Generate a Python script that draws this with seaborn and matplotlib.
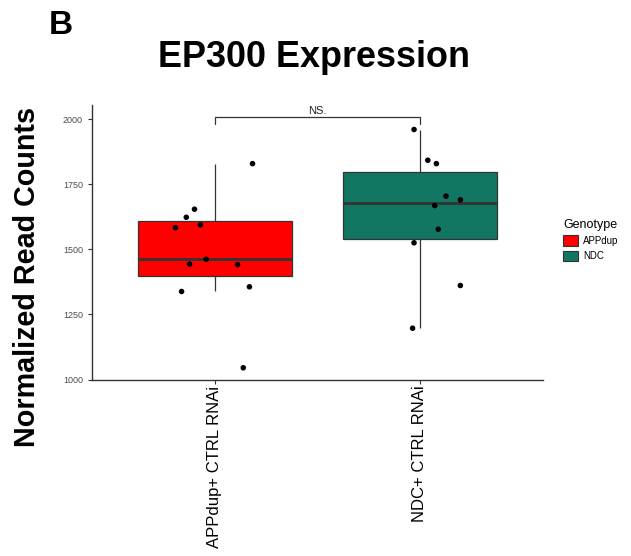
import numpy as np
import pandas as pd
import matplotlib
matplotlib.use("Agg")
import matplotlib.pyplot as plt
from matplotlib.patches import Patch
import seaborn as sns

# data
groups = ["APPdup+ CTRL RNAi", "NDC+ CTRL RNAi"]
genotypes = ["APPdup", "NDC"]
appdup_counts = [1829, 1654, 1623, 1583, 1594, 1462, 1443, 1441, 1356, 1338, 1045]
appdup_jitter = [0.183, -0.100, -0.140, -0.193, -0.071, -0.043, -0.124, 0.110, 0.168, -0.163, 0.138]
ndc_counts = [1960, 1842, 1829, 1704, 1690, 1668, 1577, 1525, 1361, 1197]
ndc_jitter = [-0.029, 0.038, 0.080, 0.127, 0.197, 0.072, 0.089, -0.029, 0.197, -0.036]
yticks = [1000, 1250, 1500, 1750, 2000]
palette = {"APPdup": "#FF0000", "NDC": "#117763"}

df = pd.DataFrame({
    "group": [groups[0]] * len(appdup_counts) + [groups[1]] * len(ndc_counts),
    "Genotype": [genotypes[0]] * len(appdup_counts) + [genotypes[1]] * len(ndc_counts),
    "counts": appdup_counts + ndc_counts,
    "jitter": appdup_jitter + ndc_jitter,
})
df["xpos"] = df["group"].map({g: i for i, g in enumerate(groups)}) + df["jitter"]

sns.set_style("white")
plt.rcParams["font.family"] = ["Liberation Sans", "DejaVu Sans"]
plt.rcParams["text.color"] = "black"

fig = plt.figure(figsize=(6.31, 5.56), dpi=100)
ax = fig.add_axes([0.1458, 0.3165, 0.7147, 0.4946])

sns.boxplot(data=df, x="group", y="counts", hue="Genotype", palette=palette,
            order=groups, hue_order=genotypes, dodge=False, width=0.755,
            showfliers=False, linecolor="#333333", linewidth=0.9,
            medianprops={"linewidth": 2.0, "color": "#333333"},
            capprops={"linewidth": 0}, saturation=1, legend=False, ax=ax)
sns.scatterplot(data=df, x="xpos", y="counts", color="black", s=16,
                edgecolor="none", legend=False, zorder=5, ax=ax)

# significance bracket
ax.plot([0, 0, 1, 1], [1980, 2007, 2007, 1980], color="#333333", lw=0.9)
ax.text(0.5, 2012, "NS.", ha="center", va="bottom", fontsize=8, color="#222222")

ax.set_xlim(-0.6, 1.6)
ax.set_ylim(998, 2054)
ax.set_yticks(yticks)
ax.set_yticklabels([str(t) for t in yticks], fontsize=6.5, color="#4d4d4d")
ax.set_xticks([0, 1])
ax.set_xticklabels(groups, rotation=90, fontsize=12, color="black")
ax.tick_params(axis="both", length=3, width=0.8, color="#333333", bottom=True, left=True)
ax.tick_params(axis="x", pad=1)
ax.set_xlabel("")
ax.set_ylabel("")
sns.despine(ax=ax)
for s in ["left", "bottom"]:
    ax.spines[s].set_color("#333333")
    ax.spines[s].set_linewidth(1.0)

fig.text(0.043, 0.502, "Normalized Read Counts", rotation=90, ha="center", va="center",
         fontsize=20.7, fontweight="bold")
fig.text(0.497, 0.897, "EP300 Expression", ha="center", va="center",
         fontsize=25.9, fontweight="bold")
fig.text(0.077, 0.955, "B", ha="left", va="center", fontsize=24, fontweight="bold")

handles = [Patch(facecolor=palette[g], edgecolor="#333333", linewidth=0.8, label=g) for g in genotypes]
fig.legend(handles=handles, title="Genotype", loc="upper left", bbox_to_anchor=(0.886, 0.614),
           frameon=False, fontsize=7, title_fontsize=9, handlelength=1.5, handleheight=1.3,
           handletextpad=0.6, labelspacing=0.5, alignment="left", borderaxespad=0)

fig.savefig("out.png", dpi=100)
